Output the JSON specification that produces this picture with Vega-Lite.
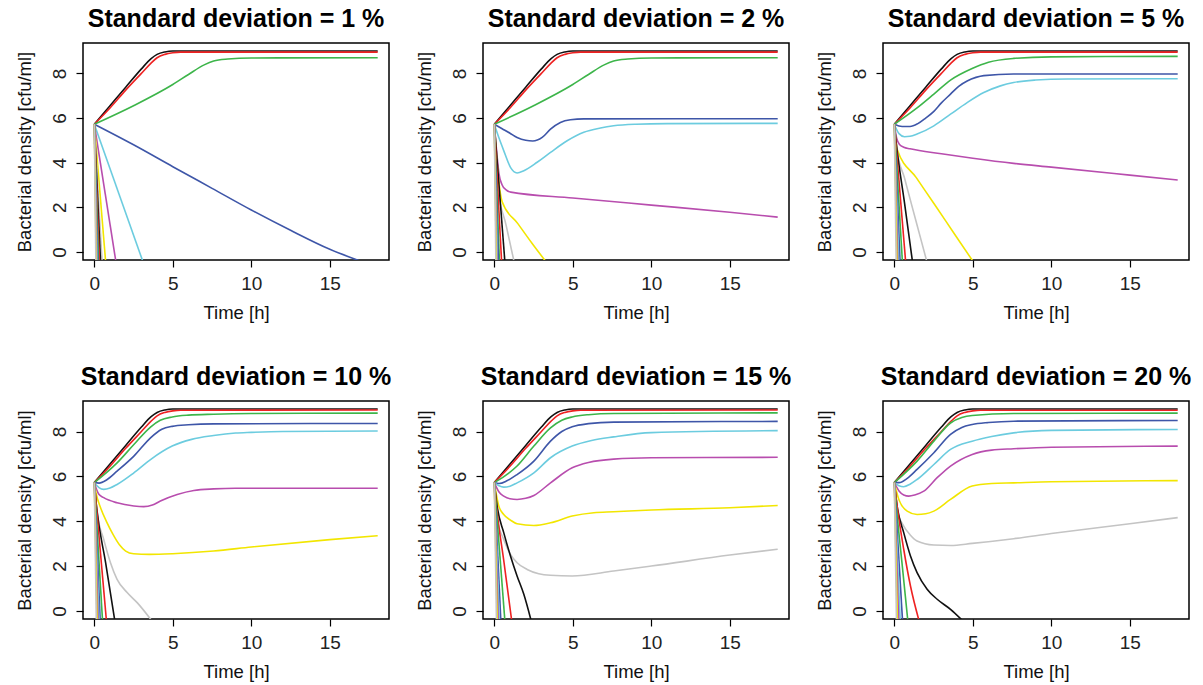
{
  "$schema": "https://vega.github.io/schema/vega-lite/v6.json",
  "padding": {"left": 14, "top": 6, "right": 5, "bottom": 5},
  "background": "white",
  "config": {
    "font": "Liberation Sans",
    "view": {"stroke": "#000", "strokeWidth": 1.5},
    "axis": {"grid": false, "domain": false, "ticks": true, "tickColor": "#000", "tickSize": 7, "tickWidth": 1.2, "labelFont": "Liberation Sans", "labelFontSize": 19, "labelColor": "#222", "labelPadding": 7, "titleFont": "Liberation Sans", "titleFontSize": 18.5, "titleFontWeight": "normal", "titleColor": "#111"},
    "axisX": {"titlePadding": 10},
    "axisY": {"labelAngle": 270, "labelAlign": "center", "labelBaseline": "bottom", "labelPadding": 7, "titlePadding": 16},
    "title": {"fontSize": 25, "fontWeight": "bold", "anchor": "middle", "frame": "group", "offset": 11, "color": "#000", "font": "Liberation Sans"}
  },
  "columns": 3,
  "bounds": "flush",
  "spacing": {"row": 141, "column": 94},
  "datasets": {
    "d": [
      {"p":1,"s":1,"t":0,"v":5.72},{"p":1,"s":1,"t":1,"v":6.55},{"p":1,"s":1,"t":2,"v":7.38},{"p":1,"s":1,"t":3,"v":8.2},{"p":1,"s":1,"t":3.6,"v":8.65},{"p":1,"s":1,"t":4,"v":8.85},{"p":1,"s":1,"t":4.5,"v":8.96},{"p":1,"s":1,"t":5,"v":9.0},{"p":1,"s":1,"t":18.05,"v":9.0},
      {"p":1,"s":2,"t":0,"v":5.72},{"p":1,"s":2,"t":1,"v":6.45},{"p":1,"s":2,"t":2,"v":7.25},{"p":1,"s":2,"t":3,"v":8.0},{"p":1,"s":2,"t":3.6,"v":8.45},{"p":1,"s":2,"t":4,"v":8.7},{"p":1,"s":2,"t":4.5,"v":8.85},{"p":1,"s":2,"t":5,"v":8.92},{"p":1,"s":2,"t":5.5,"v":8.95},{"p":1,"s":2,"t":18.05,"v":8.95},
      {"p":1,"s":3,"t":0,"v":5.72},{"p":1,"s":3,"t":2.5,"v":6.55},{"p":1,"s":3,"t":5,"v":7.5},{"p":1,"s":3,"t":6,"v":7.95},{"p":1,"s":3,"t":7,"v":8.38},{"p":1,"s":3,"t":7.6,"v":8.55},{"p":1,"s":3,"t":8.5,"v":8.64},{"p":1,"s":3,"t":10,"v":8.69},{"p":1,"s":3,"t":18.05,"v":8.7},
      {"p":1,"s":4,"t":0,"v":5.72},{"p":1,"s":4,"t":2.5,"v":4.8},{"p":1,"s":4,"t":5,"v":3.82},{"p":1,"s":4,"t":7.5,"v":2.85},{"p":1,"s":4,"t":10,"v":1.88},{"p":1,"s":4,"t":12.5,"v":0.97},{"p":1,"s":4,"t":15,"v":0.12},{"p":1,"s":4,"t":17.3,"v":-0.5},
      {"p":1,"s":5,"t":0,"v":5.72},{"p":1,"s":5,"t":3.13,"v":-0.5},
      {"p":1,"s":6,"t":0,"v":5.72},{"p":1,"s":6,"t":1.39,"v":-0.5},
      {"p":1,"s":7,"t":0,"v":5.72},{"p":1,"s":7,"t":0.73,"v":-0.5},
      {"p":1,"s":8,"t":0,"v":5.72},{"p":1,"s":8,"t":0.5,"v":-0.5},
      {"p":1,"s":9,"t":0,"v":5.72},{"p":1,"s":9,"t":0.4,"v":-0.5},
      {"p":1,"s":10,"t":0,"v":5.72},{"p":1,"s":10,"t":0.33,"v":-0.5},
      {"p":1,"s":11,"t":0,"v":5.72},{"p":1,"s":11,"t":0.27,"v":-0.5},
      {"p":1,"s":12,"t":0,"v":5.72},{"p":1,"s":12,"t":0.22,"v":-0.5},
      {"p":1,"s":13,"t":0,"v":5.72},{"p":1,"s":13,"t":0.18,"v":-0.5},
      {"p":1,"s":14,"t":0,"v":5.72},{"p":1,"s":14,"t":0.15,"v":-0.5},
      {"p":1,"s":15,"t":0,"v":5.72},{"p":1,"s":15,"t":0.12,"v":-0.5},
      {"p":1,"s":16,"t":0,"v":5.72},{"p":1,"s":16,"t":0.1,"v":-0.5},

      {"p":2,"s":1,"t":0,"v":5.72},{"p":2,"s":1,"t":1,"v":6.55},{"p":2,"s":1,"t":2,"v":7.38},{"p":2,"s":1,"t":3,"v":8.2},{"p":2,"s":1,"t":3.6,"v":8.65},{"p":2,"s":1,"t":4,"v":8.85},{"p":2,"s":1,"t":4.5,"v":8.96},{"p":2,"s":1,"t":5,"v":9.0},{"p":2,"s":1,"t":18.05,"v":9.0},
      {"p":2,"s":2,"t":0,"v":5.72},{"p":2,"s":2,"t":1,"v":6.45},{"p":2,"s":2,"t":2,"v":7.25},{"p":2,"s":2,"t":3,"v":8.0},{"p":2,"s":2,"t":3.6,"v":8.45},{"p":2,"s":2,"t":4,"v":8.7},{"p":2,"s":2,"t":4.5,"v":8.85},{"p":2,"s":2,"t":5,"v":8.92},{"p":2,"s":2,"t":5.5,"v":8.95},{"p":2,"s":2,"t":18.05,"v":8.95},
      {"p":2,"s":3,"t":0,"v":5.72},{"p":2,"s":3,"t":2.5,"v":6.55},{"p":2,"s":3,"t":5,"v":7.5},{"p":2,"s":3,"t":6,"v":7.95},{"p":2,"s":3,"t":7,"v":8.38},{"p":2,"s":3,"t":7.6,"v":8.55},{"p":2,"s":3,"t":8.5,"v":8.64},{"p":2,"s":3,"t":10,"v":8.69},{"p":2,"s":3,"t":18.05,"v":8.7},
      {"p":2,"s":4,"t":0,"v":5.72},{"p":2,"s":4,"t":0.5,"v":5.52},{"p":2,"s":4,"t":1,"v":5.32},{"p":2,"s":4,"t":1.45,"v":5.13},{"p":2,"s":4,"t":2,"v":5.0},{"p":2,"s":4,"t":2.45,"v":4.97},{"p":2,"s":4,"t":3.05,"v":5.13},{"p":2,"s":4,"t":3.58,"v":5.5},{"p":2,"s":4,"t":4.21,"v":5.8},{"p":2,"s":4,"t":4.85,"v":5.92},{"p":2,"s":4,"t":5.7,"v":5.96},{"p":2,"s":4,"t":18.05,"v":5.97},
      {"p":2,"s":5,"t":0,"v":5.72},{"p":2,"s":5,"t":0.3,"v":5.1},{"p":2,"s":5,"t":0.6,"v":4.54},{"p":2,"s":5,"t":1.03,"v":3.79},{"p":2,"s":5,"t":1.45,"v":3.54},{"p":2,"s":5,"t":1.88,"v":3.64},{"p":2,"s":5,"t":2.73,"v":4.02},{"p":2,"s":5,"t":3.58,"v":4.46},{"p":2,"s":5,"t":4.64,"v":4.98},{"p":2,"s":5,"t":5.7,"v":5.36},{"p":2,"s":5,"t":6.76,"v":5.55},{"p":2,"s":5,"t":7.6,"v":5.65},{"p":2,"s":5,"t":9,"v":5.72},{"p":2,"s":5,"t":11,"v":5.75},{"p":2,"s":5,"t":18.05,"v":5.76},
      {"p":2,"s":6,"t":0,"v":5.72},{"p":2,"s":6,"t":0.15,"v":4.5},{"p":2,"s":6,"t":0.3,"v":3.5},{"p":2,"s":6,"t":0.5,"v":3.0},{"p":2,"s":6,"t":0.75,"v":2.78},{"p":2,"s":6,"t":1.05,"v":2.68},{"p":2,"s":6,"t":5,"v":2.42},{"p":2,"s":6,"t":10,"v":2.1},{"p":2,"s":6,"t":15,"v":1.78},{"p":2,"s":6,"t":18.05,"v":1.56},
      {"p":2,"s":7,"t":0,"v":5.72},{"p":2,"s":7,"t":0.2,"v":3.8},{"p":2,"s":7,"t":0.35,"v":2.8},{"p":2,"s":7,"t":0.5,"v":2.25},{"p":2,"s":7,"t":1.5,"v":1.27},{"p":2,"s":7,"t":2.4,"v":0.39},{"p":2,"s":7,"t":3.36,"v":-0.5},
      {"p":2,"s":8,"t":0,"v":5.72},{"p":2,"s":8,"t":0.22,"v":2.9},{"p":2,"s":8,"t":0.75,"v":1.2},{"p":2,"s":8,"t":1.28,"v":-0.5},
      {"p":2,"s":9,"t":0,"v":5.72},{"p":2,"s":9,"t":0.68,"v":-0.5},
      {"p":2,"s":10,"t":0,"v":5.72},{"p":2,"s":10,"t":0.47,"v":-0.5},
      {"p":2,"s":11,"t":0,"v":5.72},{"p":2,"s":11,"t":0.33,"v":-0.5},
      {"p":2,"s":12,"t":0,"v":5.72},{"p":2,"s":12,"t":0.26,"v":-0.5},
      {"p":2,"s":13,"t":0,"v":5.72},{"p":2,"s":13,"t":0.2,"v":-0.5},
      {"p":2,"s":14,"t":0,"v":5.72},{"p":2,"s":14,"t":0.16,"v":-0.5},
      {"p":2,"s":15,"t":0,"v":5.72},{"p":2,"s":15,"t":0.13,"v":-0.5},
      {"p":2,"s":16,"t":0,"v":5.72},{"p":2,"s":16,"t":0.1,"v":-0.5},

      {"p":3,"s":1,"t":0,"v":5.72},{"p":3,"s":1,"t":1,"v":6.55},{"p":3,"s":1,"t":2,"v":7.38},{"p":3,"s":1,"t":3,"v":8.2},{"p":3,"s":1,"t":3.6,"v":8.65},{"p":3,"s":1,"t":4,"v":8.85},{"p":3,"s":1,"t":4.5,"v":8.96},{"p":3,"s":1,"t":5,"v":9.0},{"p":3,"s":1,"t":18.05,"v":9.0},
      {"p":3,"s":2,"t":0,"v":5.72},{"p":3,"s":2,"t":1,"v":6.45},{"p":3,"s":2,"t":2,"v":7.25},{"p":3,"s":2,"t":3,"v":8.0},{"p":3,"s":2,"t":3.6,"v":8.45},{"p":3,"s":2,"t":4,"v":8.7},{"p":3,"s":2,"t":4.5,"v":8.85},{"p":3,"s":2,"t":5,"v":8.92},{"p":3,"s":2,"t":5.5,"v":8.95},{"p":3,"s":2,"t":18.05,"v":8.95},
      {"p":3,"s":3,"t":0,"v":5.72},{"p":3,"s":3,"t":1.45,"v":6.45},{"p":3,"s":3,"t":2.52,"v":7.07},{"p":3,"s":3,"t":3.58,"v":7.7},{"p":3,"s":3,"t":4.96,"v":8.22},{"p":3,"s":3,"t":6,"v":8.5},{"p":3,"s":3,"t":7.6,"v":8.67},{"p":3,"s":3,"t":10,"v":8.74},{"p":3,"s":3,"t":18.05,"v":8.76},
      {"p":3,"s":4,"t":0,"v":5.72},{"p":3,"s":4,"t":0.5,"v":5.62},{"p":3,"s":4,"t":1.0,"v":5.62},{"p":3,"s":4,"t":1.5,"v":5.75},{"p":3,"s":4,"t":2.0,"v":6.0},{"p":3,"s":4,"t":2.52,"v":6.3},{"p":3,"s":4,"t":3,"v":6.68},{"p":3,"s":4,"t":3.58,"v":7.07},{"p":3,"s":4,"t":4.1,"v":7.42},{"p":3,"s":4,"t":4.64,"v":7.66},{"p":3,"s":4,"t":5.2,"v":7.82},{"p":3,"s":4,"t":5.7,"v":7.9},{"p":3,"s":4,"t":7.6,"v":7.97},{"p":3,"s":4,"t":18.05,"v":7.97},
      {"p":3,"s":5,"t":0,"v":5.72},{"p":3,"s":5,"t":0.3,"v":5.3},{"p":3,"s":5,"t":0.65,"v":5.16},{"p":3,"s":5,"t":1.0,"v":5.18},{"p":3,"s":5,"t":1.45,"v":5.28},{"p":3,"s":5,"t":2.52,"v":5.65},{"p":3,"s":5,"t":3.58,"v":6.17},{"p":3,"s":5,"t":4.64,"v":6.69},{"p":3,"s":5,"t":5.7,"v":7.14},{"p":3,"s":5,"t":6.76,"v":7.44},{"p":3,"s":5,"t":7.6,"v":7.59},{"p":3,"s":5,"t":9,"v":7.7},{"p":3,"s":5,"t":11,"v":7.75},{"p":3,"s":5,"t":18.05,"v":7.76},
      {"p":3,"s":6,"t":0,"v":5.72},{"p":3,"s":6,"t":0.15,"v":5.1},{"p":3,"s":6,"t":0.35,"v":4.8},{"p":3,"s":6,"t":0.6,"v":4.69},{"p":3,"s":6,"t":1.0,"v":4.62},{"p":3,"s":6,"t":3,"v":4.4},{"p":3,"s":6,"t":5,"v":4.2},{"p":3,"s":6,"t":7.6,"v":3.97},{"p":3,"s":6,"t":10,"v":3.8},{"p":3,"s":6,"t":15,"v":3.44},{"p":3,"s":6,"t":18.05,"v":3.22},
      {"p":3,"s":7,"t":0,"v":5.72},{"p":3,"s":7,"t":0.18,"v":4.6},{"p":3,"s":7,"t":1.4,"v":3.33},{"p":3,"s":7,"t":2.6,"v":2.09},{"p":3,"s":7,"t":3.8,"v":0.84},{"p":3,"s":7,"t":5.09,"v":-0.5},
      {"p":3,"s":8,"t":0,"v":5.72},{"p":3,"s":8,"t":0.18,"v":4.54},{"p":3,"s":8,"t":0.65,"v":3.31},{"p":3,"s":8,"t":1.1,"v":2.12},{"p":3,"s":8,"t":1.6,"v":0.81},{"p":3,"s":8,"t":2.1,"v":-0.5},
      {"p":3,"s":9,"t":0,"v":5.72},{"p":3,"s":9,"t":0.12,"v":4.9},{"p":3,"s":9,"t":0.65,"v":2.2},{"p":3,"s":9,"t":1.17,"v":-0.5},
      {"p":3,"s":10,"t":0,"v":5.72},{"p":3,"s":10,"t":0.73,"v":-0.5},
      {"p":3,"s":11,"t":0,"v":5.72},{"p":3,"s":11,"t":0.52,"v":-0.5},
      {"p":3,"s":12,"t":0,"v":5.72},{"p":3,"s":12,"t":0.37,"v":-0.5},
      {"p":3,"s":13,"t":0,"v":5.72},{"p":3,"s":13,"t":0.28,"v":-0.5},
      {"p":3,"s":14,"t":0,"v":5.72},{"p":3,"s":14,"t":0.22,"v":-0.5},
      {"p":3,"s":15,"t":0,"v":5.72},{"p":3,"s":15,"t":0.17,"v":-0.5},
      {"p":3,"s":16,"t":0,"v":5.72},{"p":3,"s":16,"t":0.12,"v":-0.5},

      {"p":4,"s":1,"t":0,"v":5.72},{"p":4,"s":1,"t":1,"v":6.55},{"p":4,"s":1,"t":2,"v":7.38},{"p":4,"s":1,"t":3,"v":8.2},{"p":4,"s":1,"t":3.6,"v":8.65},{"p":4,"s":1,"t":4,"v":8.85},{"p":4,"s":1,"t":4.5,"v":8.96},{"p":4,"s":1,"t":5,"v":9.0},{"p":4,"s":1,"t":18.05,"v":9.0},
      {"p":4,"s":2,"t":0,"v":5.72},{"p":4,"s":2,"t":1,"v":6.45},{"p":4,"s":2,"t":2,"v":7.25},{"p":4,"s":2,"t":3,"v":8.0},{"p":4,"s":2,"t":3.6,"v":8.45},{"p":4,"s":2,"t":4,"v":8.7},{"p":4,"s":2,"t":4.5,"v":8.85},{"p":4,"s":2,"t":5,"v":8.92},{"p":4,"s":2,"t":5.5,"v":8.95},{"p":4,"s":2,"t":18.05,"v":8.96},
      {"p":4,"s":3,"t":0,"v":5.72},{"p":4,"s":3,"t":1.45,"v":6.6},{"p":4,"s":3,"t":2.52,"v":7.42},{"p":4,"s":3,"t":3.58,"v":8.2},{"p":4,"s":3,"t":4.2,"v":8.5},{"p":4,"s":3,"t":4.96,"v":8.65},{"p":4,"s":3,"t":6,"v":8.73},{"p":4,"s":3,"t":7.6,"v":8.77},{"p":4,"s":3,"t":10,"v":8.8},{"p":4,"s":3,"t":18.05,"v":8.82},
      {"p":4,"s":4,"t":0,"v":5.72},{"p":4,"s":4,"t":0.3,"v":5.7},{"p":4,"s":4,"t":0.8,"v":5.85},{"p":4,"s":4,"t":1.45,"v":6.23},{"p":4,"s":4,"t":2.52,"v":6.9},{"p":4,"s":4,"t":3.58,"v":7.72},{"p":4,"s":4,"t":4.3,"v":8.1},{"p":4,"s":4,"t":4.96,"v":8.23},{"p":4,"s":4,"t":6,"v":8.3},{"p":4,"s":4,"t":7.6,"v":8.34},{"p":4,"s":4,"t":18.05,"v":8.36},
      {"p":4,"s":5,"t":0,"v":5.72},{"p":4,"s":5,"t":0.3,"v":5.5},{"p":4,"s":5,"t":0.6,"v":5.42},{"p":4,"s":5,"t":1.0,"v":5.48},{"p":4,"s":5,"t":1.45,"v":5.64},{"p":4,"s":5,"t":2.52,"v":6.16},{"p":4,"s":5,"t":3.58,"v":6.75},{"p":4,"s":5,"t":4.96,"v":7.35},{"p":4,"s":5,"t":6.2,"v":7.65},{"p":4,"s":5,"t":7.6,"v":7.82},{"p":4,"s":5,"t":9,"v":7.93},{"p":4,"s":5,"t":10,"v":7.96},{"p":4,"s":5,"t":12,"v":8.0},{"p":4,"s":5,"t":18.05,"v":8.02},
      {"p":4,"s":6,"t":0,"v":5.72},{"p":4,"s":6,"t":0.29,"v":5.2},{"p":4,"s":6,"t":0.6,"v":5.05},{"p":4,"s":6,"t":1.45,"v":4.82},{"p":4,"s":6,"t":2.52,"v":4.68},{"p":4,"s":6,"t":3.15,"v":4.65},{"p":4,"s":6,"t":3.7,"v":4.72},{"p":4,"s":6,"t":4.21,"v":4.9},{"p":4,"s":6,"t":5.28,"v":5.19},{"p":4,"s":6,"t":6.34,"v":5.37},{"p":4,"s":6,"t":7.6,"v":5.44},{"p":4,"s":6,"t":9,"v":5.47},{"p":4,"s":6,"t":18.05,"v":5.47},
      {"p":4,"s":7,"t":0,"v":5.72},{"p":4,"s":7,"t":0.1,"v":5.3},{"p":4,"s":7,"t":0.4,"v":4.6},{"p":4,"s":7,"t":0.8,"v":3.95},{"p":4,"s":7,"t":1.2,"v":3.4},{"p":4,"s":7,"t":1.6,"v":2.95},{"p":4,"s":7,"t":2.0,"v":2.67},{"p":4,"s":7,"t":2.5,"v":2.55},{"p":4,"s":7,"t":3.5,"v":2.52},{"p":4,"s":7,"t":5,"v":2.55},{"p":4,"s":7,"t":7.6,"v":2.67},{"p":4,"s":7,"t":10,"v":2.85},{"p":4,"s":7,"t":15,"v":3.18},{"p":4,"s":7,"t":18.05,"v":3.35},
      {"p":4,"s":8,"t":0,"v":5.72},{"p":4,"s":8,"t":0.18,"v":4.38},{"p":4,"s":8,"t":0.6,"v":3.19},{"p":4,"s":8,"t":1.03,"v":2.15},{"p":4,"s":8,"t":1.45,"v":1.41},{"p":4,"s":8,"t":2.09,"v":0.82},{"p":4,"s":8,"t":2.73,"v":0.37},{"p":4,"s":8,"t":3.73,"v":-0.5},
      {"p":4,"s":9,"t":0,"v":5.72},{"p":4,"s":9,"t":0.12,"v":4.8},{"p":4,"s":9,"t":0.72,"v":2.15},{"p":4,"s":9,"t":1.32,"v":-0.5},
      {"p":4,"s":10,"t":0,"v":5.72},{"p":4,"s":10,"t":0.78,"v":-0.5},
      {"p":4,"s":11,"t":0,"v":5.72},{"p":4,"s":11,"t":0.53,"v":-0.5},
      {"p":4,"s":12,"t":0,"v":5.72},{"p":4,"s":12,"t":0.38,"v":-0.5},
      {"p":4,"s":13,"t":0,"v":5.72},{"p":4,"s":13,"t":0.3,"v":-0.5},
      {"p":4,"s":14,"t":0,"v":5.72},{"p":4,"s":14,"t":0.24,"v":-0.5},
      {"p":4,"s":15,"t":0,"v":5.72},{"p":4,"s":15,"t":0.18,"v":-0.5},
      {"p":4,"s":16,"t":0,"v":5.72},{"p":4,"s":16,"t":0.13,"v":-0.5},

      {"p":5,"s":1,"t":0,"v":5.72},{"p":5,"s":1,"t":1,"v":6.55},{"p":5,"s":1,"t":2,"v":7.38},{"p":5,"s":1,"t":3,"v":8.2},{"p":5,"s":1,"t":3.6,"v":8.65},{"p":5,"s":1,"t":4,"v":8.85},{"p":5,"s":1,"t":4.5,"v":8.96},{"p":5,"s":1,"t":5,"v":9.0},{"p":5,"s":1,"t":18.05,"v":9.0},
      {"p":5,"s":2,"t":0,"v":5.72},{"p":5,"s":2,"t":1,"v":6.45},{"p":5,"s":2,"t":2,"v":7.25},{"p":5,"s":2,"t":3,"v":8.0},{"p":5,"s":2,"t":3.6,"v":8.45},{"p":5,"s":2,"t":4,"v":8.7},{"p":5,"s":2,"t":4.5,"v":8.85},{"p":5,"s":2,"t":5,"v":8.92},{"p":5,"s":2,"t":5.5,"v":8.95},{"p":5,"s":2,"t":18.05,"v":8.96},
      {"p":5,"s":3,"t":0,"v":5.72},{"p":5,"s":3,"t":1.45,"v":6.46},{"p":5,"s":3,"t":2.52,"v":7.35},{"p":5,"s":3,"t":3.58,"v":8.16},{"p":5,"s":3,"t":4.3,"v":8.5},{"p":5,"s":3,"t":4.96,"v":8.65},{"p":5,"s":3,"t":6,"v":8.75},{"p":5,"s":3,"t":7.6,"v":8.8},{"p":5,"s":3,"t":18.05,"v":8.83},
      {"p":5,"s":4,"t":0,"v":5.72},{"p":5,"s":4,"t":0.3,"v":5.68},{"p":5,"s":4,"t":0.8,"v":5.8},{"p":5,"s":4,"t":1.45,"v":6.08},{"p":5,"s":4,"t":2.52,"v":6.68},{"p":5,"s":4,"t":3.58,"v":7.57},{"p":5,"s":4,"t":4.3,"v":8.0},{"p":5,"s":4,"t":4.96,"v":8.21},{"p":5,"s":4,"t":6,"v":8.35},{"p":5,"s":4,"t":7.6,"v":8.42},{"p":5,"s":4,"t":18.05,"v":8.45},
      {"p":5,"s":5,"t":0,"v":5.72},{"p":5,"s":5,"t":0.3,"v":5.58},{"p":5,"s":5,"t":0.6,"v":5.52},{"p":5,"s":5,"t":1.0,"v":5.56},{"p":5,"s":5,"t":1.45,"v":5.71},{"p":5,"s":5,"t":2.52,"v":6.16},{"p":5,"s":5,"t":3.58,"v":6.83},{"p":5,"s":5,"t":4.96,"v":7.35},{"p":5,"s":5,"t":6.2,"v":7.6},{"p":5,"s":5,"t":7.6,"v":7.76},{"p":5,"s":5,"t":10,"v":7.95},{"p":5,"s":5,"t":18.05,"v":8.04},
      {"p":5,"s":6,"t":0,"v":5.72},{"p":5,"s":6,"t":0.3,"v":5.3},{"p":5,"s":6,"t":0.6,"v":5.12},{"p":5,"s":6,"t":1.0,"v":5.0},{"p":5,"s":6,"t":1.45,"v":4.97},{"p":5,"s":6,"t":2.0,"v":5.02},{"p":5,"s":6,"t":2.52,"v":5.15},{"p":5,"s":6,"t":3.58,"v":5.71},{"p":5,"s":6,"t":4.96,"v":6.38},{"p":5,"s":6,"t":6,"v":6.62},{"p":5,"s":6,"t":7.6,"v":6.77},{"p":5,"s":6,"t":10,"v":6.83},{"p":5,"s":6,"t":18.05,"v":6.85},
      {"p":5,"s":7,"t":0,"v":5.72},{"p":5,"s":7,"t":0.29,"v":4.67},{"p":5,"s":7,"t":0.6,"v":4.3},{"p":5,"s":7,"t":1.03,"v":4.05},{"p":5,"s":7,"t":1.45,"v":3.89},{"p":5,"s":7,"t":2.52,"v":3.81},{"p":5,"s":7,"t":3.58,"v":3.93},{"p":5,"s":7,"t":4.96,"v":4.23},{"p":5,"s":7,"t":6.34,"v":4.38},{"p":5,"s":7,"t":7.6,"v":4.42},{"p":5,"s":7,"t":10,"v":4.5},{"p":5,"s":7,"t":15,"v":4.6},{"p":5,"s":7,"t":18.05,"v":4.7},
      {"p":5,"s":8,"t":0,"v":5.72},{"p":5,"s":8,"t":0.18,"v":4.08},{"p":5,"s":8,"t":0.6,"v":3.19},{"p":5,"s":8,"t":1.03,"v":2.52},{"p":5,"s":8,"t":1.45,"v":2.15},{"p":5,"s":8,"t":2.09,"v":1.85},{"p":5,"s":8,"t":2.83,"v":1.66},{"p":5,"s":8,"t":3.58,"v":1.59},{"p":5,"s":8,"t":4.96,"v":1.56},{"p":5,"s":8,"t":7.6,"v":1.78},{"p":5,"s":8,"t":10,"v":2.0},{"p":5,"s":8,"t":15,"v":2.49},{"p":5,"s":8,"t":18.05,"v":2.75},
      {"p":5,"s":9,"t":0,"v":5.72},{"p":5,"s":9,"t":0.18,"v":4.67},{"p":5,"s":9,"t":0.6,"v":3.49},{"p":5,"s":9,"t":1.03,"v":2.45},{"p":5,"s":9,"t":1.45,"v":1.56},{"p":5,"s":9,"t":1.88,"v":0.74},{"p":5,"s":9,"t":2.37,"v":-0.5},
      {"p":5,"s":10,"t":0,"v":5.72},{"p":5,"s":10,"t":0.12,"v":4.8},{"p":5,"s":10,"t":0.62,"v":2.15},{"p":5,"s":10,"t":1.12,"v":-0.5},
      {"p":5,"s":11,"t":0,"v":5.72},{"p":5,"s":11,"t":0.68,"v":-0.5},
      {"p":5,"s":12,"t":0,"v":5.72},{"p":5,"s":12,"t":0.42,"v":-0.5},
      {"p":5,"s":13,"t":0,"v":5.72},{"p":5,"s":13,"t":0.32,"v":-0.5},
      {"p":5,"s":14,"t":0,"v":5.72},{"p":5,"s":14,"t":0.25,"v":-0.5},
      {"p":5,"s":15,"t":0,"v":5.72},{"p":5,"s":15,"t":0.19,"v":-0.5},
      {"p":5,"s":16,"t":0,"v":5.72},{"p":5,"s":16,"t":0.14,"v":-0.5},

      {"p":6,"s":1,"t":0,"v":5.72},{"p":6,"s":1,"t":1,"v":6.55},{"p":6,"s":1,"t":2,"v":7.38},{"p":6,"s":1,"t":3,"v":8.2},{"p":6,"s":1,"t":3.6,"v":8.65},{"p":6,"s":1,"t":4,"v":8.85},{"p":6,"s":1,"t":4.5,"v":8.96},{"p":6,"s":1,"t":5,"v":9.0},{"p":6,"s":1,"t":18.05,"v":9.0},
      {"p":6,"s":2,"t":0,"v":5.72},{"p":6,"s":2,"t":1,"v":6.45},{"p":6,"s":2,"t":2,"v":7.25},{"p":6,"s":2,"t":3,"v":8.0},{"p":6,"s":2,"t":3.6,"v":8.45},{"p":6,"s":2,"t":4,"v":8.7},{"p":6,"s":2,"t":4.5,"v":8.85},{"p":6,"s":2,"t":5,"v":8.92},{"p":6,"s":2,"t":5.5,"v":8.95},{"p":6,"s":2,"t":18.05,"v":8.95},
      {"p":6,"s":3,"t":0,"v":5.72},{"p":6,"s":3,"t":1.45,"v":6.68},{"p":6,"s":3,"t":2.52,"v":7.57},{"p":6,"s":3,"t":3.58,"v":8.38},{"p":6,"s":3,"t":4.3,"v":8.62},{"p":6,"s":3,"t":4.96,"v":8.71},{"p":6,"s":3,"t":7.6,"v":8.8},{"p":6,"s":3,"t":18.05,"v":8.82},
      {"p":6,"s":4,"t":0,"v":5.72},{"p":6,"s":4,"t":0.3,"v":5.72},{"p":6,"s":4,"t":0.8,"v":5.9},{"p":6,"s":4,"t":1.45,"v":6.31},{"p":6,"s":4,"t":2.52,"v":7.05},{"p":6,"s":4,"t":3.58,"v":7.87},{"p":6,"s":4,"t":4.3,"v":8.18},{"p":6,"s":4,"t":4.96,"v":8.31},{"p":6,"s":4,"t":6,"v":8.4},{"p":6,"s":4,"t":7.6,"v":8.46},{"p":6,"s":4,"t":18.05,"v":8.49},
      {"p":6,"s":5,"t":0,"v":5.72},{"p":6,"s":5,"t":0.3,"v":5.58},{"p":6,"s":5,"t":0.6,"v":5.54},{"p":6,"s":5,"t":1.0,"v":5.65},{"p":6,"s":5,"t":1.45,"v":5.86},{"p":6,"s":5,"t":2.52,"v":6.53},{"p":6,"s":5,"t":3.58,"v":7.2},{"p":6,"s":5,"t":4.96,"v":7.57},{"p":6,"s":5,"t":6.2,"v":7.78},{"p":6,"s":5,"t":7.6,"v":7.94},{"p":6,"s":5,"t":10,"v":8.05},{"p":6,"s":5,"t":18.05,"v":8.09},
      {"p":6,"s":6,"t":0,"v":5.72},{"p":6,"s":6,"t":0.3,"v":5.35},{"p":6,"s":6,"t":0.6,"v":5.17},{"p":6,"s":6,"t":0.92,"v":5.12},{"p":6,"s":6,"t":1.3,"v":5.17},{"p":6,"s":6,"t":1.88,"v":5.34},{"p":6,"s":6,"t":2.73,"v":5.94},{"p":6,"s":6,"t":3.58,"v":6.46},{"p":6,"s":6,"t":4.96,"v":6.98},{"p":6,"s":6,"t":6.2,"v":7.17},{"p":6,"s":6,"t":7.6,"v":7.23},{"p":6,"s":6,"t":10,"v":7.3},{"p":6,"s":6,"t":18.05,"v":7.35},
      {"p":6,"s":7,"t":0,"v":5.72},{"p":6,"s":7,"t":0.29,"v":4.97},{"p":6,"s":7,"t":0.82,"v":4.45},{"p":6,"s":7,"t":1.45,"v":4.3},{"p":6,"s":7,"t":2.0,"v":4.33},{"p":6,"s":7,"t":2.52,"v":4.45},{"p":6,"s":7,"t":3.58,"v":4.97},{"p":6,"s":7,"t":4.96,"v":5.57},{"p":6,"s":7,"t":6.2,"v":5.68},{"p":6,"s":7,"t":7.6,"v":5.71},{"p":6,"s":7,"t":10,"v":5.76},{"p":6,"s":7,"t":18.05,"v":5.81},
      {"p":6,"s":8,"t":0,"v":5.72},{"p":6,"s":8,"t":0.18,"v":4.52},{"p":6,"s":8,"t":0.6,"v":3.78},{"p":6,"s":8,"t":1.0,"v":3.4},{"p":6,"s":8,"t":1.45,"v":3.12},{"p":6,"s":8,"t":2.52,"v":2.94},{"p":6,"s":8,"t":3.58,"v":2.92},{"p":6,"s":8,"t":4.96,"v":3.01},{"p":6,"s":8,"t":7.6,"v":3.22},{"p":6,"s":8,"t":10,"v":3.45},{"p":6,"s":8,"t":15,"v":3.89},{"p":6,"s":8,"t":18.05,"v":4.16},
      {"p":6,"s":9,"t":0,"v":5.72},{"p":6,"s":9,"t":0.18,"v":4.67},{"p":6,"s":9,"t":0.6,"v":3.49},{"p":6,"s":9,"t":1.03,"v":2.45},{"p":6,"s":9,"t":1.45,"v":1.71},{"p":6,"s":9,"t":2.09,"v":0.97},{"p":6,"s":9,"t":2.73,"v":0.52},{"p":6,"s":9,"t":3.58,"v":0.07},{"p":6,"s":9,"t":4.45,"v":-0.5},
      {"p":6,"s":10,"t":0,"v":5.72},{"p":6,"s":10,"t":0.18,"v":4.67},{"p":6,"s":10,"t":0.6,"v":2.75},{"p":6,"s":10,"t":1.03,"v":1.11},{"p":6,"s":10,"t":1.6,"v":-0.5},
      {"p":6,"s":11,"t":0,"v":5.72},{"p":6,"s":11,"t":0.15,"v":4.5},{"p":6,"s":11,"t":0.51,"v":2.0},{"p":6,"s":11,"t":0.87,"v":-0.5},
      {"p":6,"s":12,"t":0,"v":5.72},{"p":6,"s":12,"t":0.53,"v":-0.5},
      {"p":6,"s":13,"t":0,"v":5.72},{"p":6,"s":13,"t":0.38,"v":-0.5},
      {"p":6,"s":14,"t":0,"v":5.72},{"p":6,"s":14,"t":0.28,"v":-0.5},
      {"p":6,"s":15,"t":0,"v":5.72},{"p":6,"s":15,"t":0.2,"v":-0.5},
      {"p":6,"s":16,"t":0,"v":5.72},{"p":6,"s":16,"t":0.14,"v":-0.5}
    ]
  },
  "concat": [
    {"title": "Standard deviation = 1 %", "width": 306, "height": 217, "data": {"name": "d"}, "transform": [{"filter": "datum.p == 1"}],
     "mark": {"type": "line", "clip": true, "strokeWidth": 1.6, "interpolate": "monotone"},
     "encoding": {
       "x": {"field": "t", "type": "quantitative", "scale": {"domain": [-0.72, 18.77], "nice": false, "zero": false}, "axis": {"values": [0, 5, 10, 15], "title": "Time [h]"}},
       "y": {"field": "v", "type": "quantitative", "scale": {"domain": [-0.36, 9.36], "nice": false, "zero": false}, "axis": {"values": [0, 2, 4, 6, 8], "title": "Bacterial density [cfu/ml]"}},
       "color": {"field": "s", "type": "ordinal", "scale": {"domain": [1,2,3,4,5,6,7,8,9,10,11,12,13,14,15,16], "range": ["#111111","#ee2222","#3db54a","#3e56a8","#6cccdf","#b84dae","#f2e600","#c4c4c4","#111111","#ee2222","#3db54a","#3e56a8","#6cccdf","#b84dae","#f2e600","#c4c4c4"]}, "legend": null}
     }},
    {"title": "Standard deviation = 2 %", "width": 306, "height": 217, "data": {"name": "d"}, "transform": [{"filter": "datum.p == 2"}],
     "mark": {"type": "line", "clip": true, "strokeWidth": 1.6, "interpolate": "monotone"},
     "encoding": {
       "x": {"field": "t", "type": "quantitative", "scale": {"domain": [-0.72, 18.77], "nice": false, "zero": false}, "axis": {"values": [0, 5, 10, 15], "title": "Time [h]"}},
       "y": {"field": "v", "type": "quantitative", "scale": {"domain": [-0.36, 9.36], "nice": false, "zero": false}, "axis": {"values": [0, 2, 4, 6, 8], "title": "Bacterial density [cfu/ml]"}},
       "color": {"field": "s", "type": "ordinal", "scale": {"domain": [1,2,3,4,5,6,7,8,9,10,11,12,13,14,15,16], "range": ["#111111","#ee2222","#3db54a","#3e56a8","#6cccdf","#b84dae","#f2e600","#c4c4c4","#111111","#ee2222","#3db54a","#3e56a8","#6cccdf","#b84dae","#f2e600","#c4c4c4"]}, "legend": null}
     }},
    {"title": "Standard deviation = 5 %", "width": 306, "height": 217, "data": {"name": "d"}, "transform": [{"filter": "datum.p == 3"}],
     "mark": {"type": "line", "clip": true, "strokeWidth": 1.6, "interpolate": "monotone"},
     "encoding": {
       "x": {"field": "t", "type": "quantitative", "scale": {"domain": [-0.72, 18.77], "nice": false, "zero": false}, "axis": {"values": [0, 5, 10, 15], "title": "Time [h]"}},
       "y": {"field": "v", "type": "quantitative", "scale": {"domain": [-0.36, 9.36], "nice": false, "zero": false}, "axis": {"values": [0, 2, 4, 6, 8], "title": "Bacterial density [cfu/ml]"}},
       "color": {"field": "s", "type": "ordinal", "scale": {"domain": [1,2,3,4,5,6,7,8,9,10,11,12,13,14,15,16], "range": ["#111111","#ee2222","#3db54a","#3e56a8","#6cccdf","#b84dae","#f2e600","#c4c4c4","#111111","#ee2222","#3db54a","#3e56a8","#6cccdf","#b84dae","#f2e600","#c4c4c4"]}, "legend": null}
     }},
    {"title": "Standard deviation = 10 %", "width": 306, "height": 218, "data": {"name": "d"}, "transform": [{"filter": "datum.p == 4"}],
     "mark": {"type": "line", "clip": true, "strokeWidth": 1.6, "interpolate": "monotone"},
     "encoding": {
       "x": {"field": "t", "type": "quantitative", "scale": {"domain": [-0.72, 18.77], "nice": false, "zero": false}, "axis": {"values": [0, 5, 10, 15], "title": "Time [h]"}},
       "y": {"field": "v", "type": "quantitative", "scale": {"domain": [-0.36, 9.36], "nice": false, "zero": false}, "axis": {"values": [0, 2, 4, 6, 8], "title": "Bacterial density [cfu/ml]"}},
       "color": {"field": "s", "type": "ordinal", "scale": {"domain": [1,2,3,4,5,6,7,8,9,10,11,12,13,14,15,16], "range": ["#111111","#ee2222","#3db54a","#3e56a8","#6cccdf","#b84dae","#f2e600","#c4c4c4","#111111","#ee2222","#3db54a","#3e56a8","#6cccdf","#b84dae","#f2e600","#c4c4c4"]}, "legend": null}
     }},
    {"title": "Standard deviation = 15 %", "width": 306, "height": 218, "data": {"name": "d"}, "transform": [{"filter": "datum.p == 5"}],
     "mark": {"type": "line", "clip": true, "strokeWidth": 1.6, "interpolate": "monotone"},
     "encoding": {
       "x": {"field": "t", "type": "quantitative", "scale": {"domain": [-0.72, 18.77], "nice": false, "zero": false}, "axis": {"values": [0, 5, 10, 15], "title": "Time [h]"}},
       "y": {"field": "v", "type": "quantitative", "scale": {"domain": [-0.36, 9.36], "nice": false, "zero": false}, "axis": {"values": [0, 2, 4, 6, 8], "title": "Bacterial density [cfu/ml]"}},
       "color": {"field": "s", "type": "ordinal", "scale": {"domain": [1,2,3,4,5,6,7,8,9,10,11,12,13,14,15,16], "range": ["#111111","#ee2222","#3db54a","#3e56a8","#6cccdf","#b84dae","#f2e600","#c4c4c4","#111111","#ee2222","#3db54a","#3e56a8","#6cccdf","#b84dae","#f2e600","#c4c4c4"]}, "legend": null}
     }},
    {"title": "Standard deviation = 20 %", "width": 306, "height": 218, "data": {"name": "d"}, "transform": [{"filter": "datum.p == 6"}],
     "mark": {"type": "line", "clip": true, "strokeWidth": 1.6, "interpolate": "monotone"},
     "encoding": {
       "x": {"field": "t", "type": "quantitative", "scale": {"domain": [-0.72, 18.77], "nice": false, "zero": false}, "axis": {"values": [0, 5, 10, 15], "title": "Time [h]"}},
       "y": {"field": "v", "type": "quantitative", "scale": {"domain": [-0.36, 9.36], "nice": false, "zero": false}, "axis": {"values": [0, 2, 4, 6, 8], "title": "Bacterial density [cfu/ml]"}},
       "color": {"field": "s", "type": "ordinal", "scale": {"domain": [1,2,3,4,5,6,7,8,9,10,11,12,13,14,15,16], "range": ["#111111","#ee2222","#3db54a","#3e56a8","#6cccdf","#b84dae","#f2e600","#c4c4c4","#111111","#ee2222","#3db54a","#3e56a8","#6cccdf","#b84dae","#f2e600","#c4c4c4"]}, "legend": null}
     }}
  ]
}
